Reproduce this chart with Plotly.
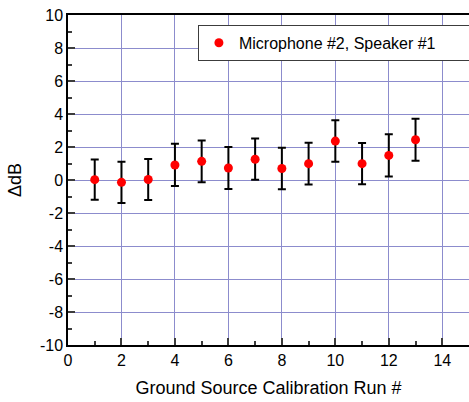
import plotly.graph_objects as go

# Calibration runs and level differences (dB) with their uncertainties
runs = [1, 2, 3, 4, 5, 6, 7, 8, 9, 10, 11, 12, 13]
delta_db = [0.02, -0.14, 0.03, 0.91, 1.13, 0.73, 1.26, 0.70, 0.99, 2.36, 0.99, 1.49, 2.44]
err_db = [1.22, 1.25, 1.24, 1.28, 1.26, 1.27, 1.25, 1.26, 1.27, 1.26, 1.25, 1.28, 1.27]

y_tick_vals = [-10, -8, -6, -4, -2, 0, 2, 4, 6, 8, 10]
y_tick_text = ["-10", "-8", "-6", "-4", "-2", "0", "2", "4", "6", "8", "10"]

series_name = "Microphone #2, Speaker #1"
x_title = "Ground Source Calibration Run #"
y_title = "ΔdB"

font_family = "Liberation Sans, Arial, sans-serif"
grid_color = "rgb(140,140,205)"

fig = go.Figure()
fig.add_trace(go.Scatter(
    x=runs,
    y=delta_db,
    mode="markers",
    name=series_name,
    marker=dict(color="rgb(255,0,0)", size=9, line=dict(width=0)),
    error_y=dict(type="data", array=err_db, visible=True,
                 color="black", thickness=2, width=4),
    showlegend=True,
))

fig.update_layout(
    width=469,
    height=402,
    margin=dict(l=68, r=0, t=15, b=57, autoexpand=False),
    paper_bgcolor="white",
    plot_bgcolor="white",
    font=dict(family=font_family, size=15, color="black"),
    showlegend=True,
    legend=dict(
        x=0.324, y=0.97, xanchor="left", yanchor="top",
        orientation="h",
        entrywidth=246, entrywidthmode="pixels",
        bgcolor="white", bordercolor="rgb(60,60,60)", borderwidth=1,
        font=dict(family=font_family, size=16, color="black"),
    ),
    xaxis=dict(
        range=[0, 15],
        dtick=2,
        tick0=0,
        showgrid=True, gridcolor=grid_color, gridwidth=1,
        zeroline=False,
        showline=True, linecolor="black", linewidth=1.5, mirror=True,
        ticks="inside", ticklen=7, tickwidth=1.5, tickcolor="rgb(60,60,60)",
        minor=dict(dtick=1, tick0=0, ticks="inside", ticklen=4,
                   tickcolor="rgb(60,60,60)", showgrid=False),
        tickfont=dict(size=16),
        title=dict(text=x_title, font=dict(size=18), standoff=13),
    ),
    yaxis=dict(
        range=[-10, 10],
        tickmode="array",
        tickvals=y_tick_vals,
        ticktext=y_tick_text,
        showgrid=True, gridcolor=grid_color, gridwidth=1,
        zeroline=False,
        showline=True, linecolor="black", linewidth=1.5, mirror=False,
        ticks="inside", ticklen=7, tickwidth=1.5, tickcolor="rgb(60,60,60)",
        minor=dict(dtick=1, tick0=0, ticks="inside", ticklen=4,
                   tickcolor="rgb(60,60,60)", showgrid=False),
        tickfont=dict(size=16),
        title=dict(text=y_title, font=dict(size=18), standoff=14),
    ),
)

fig.write_html("out.html")
